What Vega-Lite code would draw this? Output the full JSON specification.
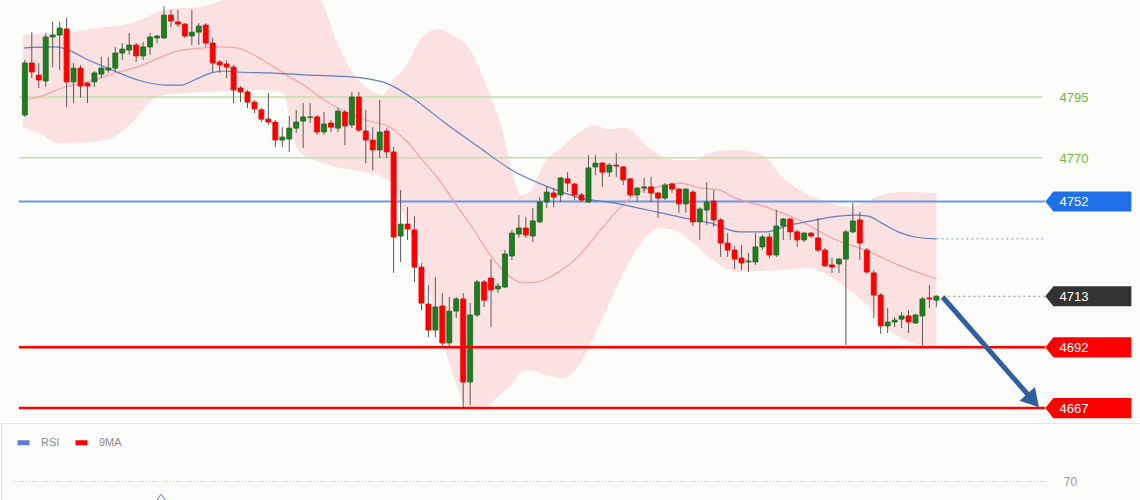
{
"$schema": "https://vega.github.io/schema/vega-lite/v6.json",
"background": "#fcfcfb",
"padding": 0,
"spacing": 0,
"config": {"view": {"stroke": null}, "font": "Liberation Sans"},
"resolve": {"scale": {"color": "independent"}},
"datasets": {
"candles": [
{"n":0,"o":4787.6,"h":4810.2,"l":4786.8,"c":4809.0},{"n":1,"o":4809.0,"h":4821.7,"l":4802.8,"c":4805.3},{"n":2,"o":4804.0,"h":4809.0,"l":4798.7,"c":4802.0},{"n":3,"o":4801.6,"h":4821.3,"l":4799.1,"c":4819.7},{"n":4,"o":4819.7,"h":4825.9,"l":4807.3,"c":4820.5},{"n":5,"o":4820.5,"h":4825.9,"l":4806.1,"c":4823.4},{"n":6,"o":4823.0,"h":4827.5,"l":4790.9,"c":4801.2},{"n":7,"o":4801.2,"h":4809.0,"l":4792.5,"c":4806.9},{"n":8,"o":4806.9,"h":4808.2,"l":4794.6,"c":4799.5},{"n":9,"o":4800.7,"h":4801.2,"l":4792.5,"c":4799.5},
{"n":10,"o":4801.2,"h":4805.7,"l":4799.1,"c":4804.9},{"n":11,"o":4804.4,"h":4811.4,"l":4802.8,"c":4806.9},{"n":12,"o":4806.1,"h":4811.4,"l":4804.9,"c":4806.9},{"n":13,"o":4806.9,"h":4815.6,"l":4805.3,"c":4813.1},{"n":14,"o":4813.1,"h":4817.2,"l":4810.2,"c":4814.7},{"n":15,"o":4814.3,"h":4821.3,"l":4812.3,"c":4816.4},{"n":16,"o":4816.4,"h":4817.2,"l":4809.4,"c":4811.9},{"n":17,"o":4811.9,"h":4817.6,"l":4810.2,"c":4815.6},{"n":18,"o":4815.6,"h":4821.3,"l":4812.3,"c":4819.7},{"n":19,"o":4819.3,"h":4820.5,"l":4817.2,"c":4820.1},
{"n":20,"o":4819.3,"h":4832.4,"l":4818.9,"c":4828.7},{"n":21,"o":4828.7,"h":4830.8,"l":4823.8,"c":4826.3},{"n":22,"o":4825.9,"h":4830.8,"l":4823.8,"c":4825.0},{"n":23,"o":4825.0,"h":4825.4,"l":4819.3,"c":4820.1},{"n":24,"o":4820.1,"h":4830.8,"l":4816.4,"c":4821.7},{"n":25,"o":4821.7,"h":4825.4,"l":4816.4,"c":4824.2},{"n":26,"o":4824.6,"h":4825.4,"l":4815.6,"c":4817.2},{"n":27,"o":4817.2,"h":4819.3,"l":4805.3,"c":4809.0},{"n":28,"o":4809.4,"h":4810.2,"l":4804.9,"c":4808.2},{"n":29,"o":4808.6,"h":4810.2,"l":4802.8,"c":4807.3},
{"n":30,"o":4807.3,"h":4808.2,"l":4792.5,"c":4797.9},{"n":31,"o":4798.7,"h":4799.5,"l":4792.9,"c":4797.1},{"n":32,"o":4797.1,"h":4797.9,"l":4790.5,"c":4792.9},{"n":33,"o":4792.9,"h":4793.8,"l":4788.4,"c":4790.1},{"n":34,"o":4789.7,"h":4790.5,"l":4784.7,"c":4785.9},{"n":35,"o":4785.9,"h":4796.6,"l":4783.5,"c":4784.7},{"n":36,"o":4784.7,"h":4785.5,"l":4774.4,"c":4777.3},{"n":37,"o":4777.3,"h":4782.6,"l":4774.4,"c":4778.5},{"n":38,"o":4777.7,"h":4787.2,"l":4772.4,"c":4782.2},{"n":39,"o":4782.2,"h":4789.7,"l":4780.2,"c":4784.7},
{"n":40,"o":4785.1,"h":4792.5,"l":4774.0,"c":4786.8},{"n":41,"o":4786.6,"h":4792.5,"l":4784.3,"c":4786.8},{"n":42,"o":4786.8,"h":4787.6,"l":4779.4,"c":4780.6},{"n":43,"o":4780.6,"h":4788.8,"l":4779.4,"c":4783.9},{"n":44,"o":4784.3,"h":4785.5,"l":4780.6,"c":4782.6},{"n":45,"o":4782.2,"h":4790.5,"l":4780.6,"c":4789.2},{"n":46,"o":4788.8,"h":4789.7,"l":4775.2,"c":4783.1},{"n":47,"o":4783.5,"h":4797.1,"l":4782.2,"c":4795.0},{"n":48,"o":4795.0,"h":4797.1,"l":4780.6,"c":4781.4},{"n":49,"o":4781.0,"h":4789.7,"l":4767.8,"c":4777.3},
{"n":50,"o":4777.3,"h":4782.6,"l":4764.9,"c":4773.2},{"n":51,"o":4773.2,"h":4793.8,"l":4769.9,"c":4780.6},{"n":52,"o":4781.0,"h":4782.2,"l":4769.9,"c":4772.4},{"n":53,"o":4772.4,"h":4774.4,"l":4722.6,"c":4737.4},{"n":54,"o":4737.8,"h":4756.7,"l":4727.1,"c":4742.7},{"n":55,"o":4742.7,"h":4749.7,"l":4736.2,"c":4740.7},{"n":56,"o":4740.3,"h":4746.0,"l":4718.9,"c":4725.0},{"n":57,"o":4725.0,"h":4726.7,"l":4707.3,"c":4710.2},{"n":58,"o":4709.8,"h":4717.6,"l":4696.2,"c":4699.1},{"n":59,"o":4699.1,"h":4720.9,"l":4696.2,"c":4708.6},
{"n":60,"o":4709.0,"h":4714.3,"l":4692.1,"c":4693.8},{"n":61,"o":4693.8,"h":4712.7,"l":4692.1,"c":4706.9},{"n":62,"o":4706.9,"h":4712.7,"l":4704.0,"c":4711.9},{"n":63,"o":4711.9,"h":4714.3,"l":4667.0,"c":4677.7},{"n":64,"o":4677.7,"h":4710.2,"l":4668.3,"c":4705.3},{"n":65,"o":4705.3,"h":4719.7,"l":4704.4,"c":4718.9},{"n":66,"o":4718.9,"h":4719.7,"l":4708.6,"c":4711.4},{"n":67,"o":4720.5,"h":4728.3,"l":4700.3,"c":4715.6},{"n":68,"o":4716.0,"h":4718.5,"l":4714.3,"c":4717.2},{"n":69,"o":4716.8,"h":4732.0,"l":4716.4,"c":4730.4},
{"n":70,"o":4729.6,"h":4740.3,"l":4727.9,"c":4739.0},{"n":71,"o":4738.6,"h":4746.4,"l":4737.0,"c":4741.1},{"n":72,"o":4741.1,"h":4745.6,"l":4737.0,"c":4738.2},{"n":73,"o":4737.8,"h":4749.3,"l":4735.3,"c":4744.0},{"n":74,"o":4743.6,"h":4753.8,"l":4743.1,"c":4751.8},{"n":75,"o":4751.8,"h":4758.0,"l":4749.3,"c":4755.9},{"n":76,"o":4755.5,"h":4757.5,"l":4749.7,"c":4753.8},{"n":77,"o":4754.7,"h":4762.1,"l":4751.8,"c":4761.7},{"n":78,"o":4761.3,"h":4764.1,"l":4755.9,"c":4759.6},{"n":79,"o":4759.2,"h":4759.6,"l":4752.6,"c":4754.7},
{"n":80,"o":4754.7,"h":4755.5,"l":4751.8,"c":4752.6},{"n":81,"o":4751.8,"h":4771.1,"l":4751.4,"c":4765.8},{"n":82,"o":4766.2,"h":4771.1,"l":4762.9,"c":4767.8},{"n":83,"o":4767.8,"h":4768.2,"l":4758.0,"c":4764.1},{"n":84,"o":4764.1,"h":4767.8,"l":4762.1,"c":4767.0},{"n":85,"o":4767.0,"h":4771.9,"l":4762.1,"c":4766.6},{"n":86,"o":4766.2,"h":4766.6,"l":4758.8,"c":4760.9},{"n":87,"o":4761.3,"h":4761.7,"l":4753.8,"c":4754.7},{"n":88,"o":4754.7,"h":4758.0,"l":4751.8,"c":4757.5},{"n":89,"o":4757.5,"h":4761.7,"l":4755.5,"c":4758.0},
{"n":90,"o":4758.0,"h":4762.1,"l":4751.8,"c":4755.5},{"n":91,"o":4755.5,"h":4755.9,"l":4745.2,"c":4753.4},{"n":92,"o":4753.4,"h":4759.6,"l":4752.6,"c":4758.8},{"n":93,"o":4759.2,"h":4760.0,"l":4755.5,"c":4757.1},{"n":94,"o":4757.1,"h":4757.5,"l":4747.3,"c":4751.0},{"n":95,"o":4751.0,"h":4757.5,"l":4747.3,"c":4757.1},{"n":96,"o":4755.9,"h":4756.7,"l":4741.9,"c":4743.6},{"n":97,"o":4743.6,"h":4749.7,"l":4736.2,"c":4748.9},{"n":98,"o":4748.5,"h":4760.0,"l":4742.3,"c":4751.8},{"n":99,"o":4752.2,"h":4756.7,"l":4741.5,"c":4744.4},
{"n":100,"o":4744.4,"h":4745.2,"l":4729.2,"c":4734.9},{"n":101,"o":4734.9,"h":4739.0,"l":4729.2,"c":4732.0},{"n":102,"o":4732.0,"h":4733.7,"l":4724.2,"c":4728.3},{"n":103,"o":4728.7,"h":4734.1,"l":4723.8,"c":4726.7},{"n":104,"o":4727.1,"h":4730.8,"l":4723.0,"c":4727.5},{"n":105,"o":4727.1,"h":4739.0,"l":4725.9,"c":4733.3},{"n":106,"o":4733.3,"h":4738.2,"l":4732.0,"c":4737.4},{"n":107,"o":4737.4,"h":4739.0,"l":4728.7,"c":4730.0},{"n":108,"o":4730.0,"h":4748.5,"l":4729.2,"c":4741.9},{"n":109,"o":4741.9,"h":4745.2,"l":4736.2,"c":4744.8},
{"n":110,"o":4744.8,"h":4745.2,"l":4736.2,"c":4739.5},{"n":111,"o":4739.5,"h":4740.3,"l":4733.3,"c":4736.2},{"n":112,"o":4736.2,"h":4739.5,"l":4735.3,"c":4739.0},{"n":113,"o":4739.0,"h":4739.5,"l":4737.0,"c":4737.8},{"n":114,"o":4737.0,"h":4745.2,"l":4731.2,"c":4732.0},{"n":115,"o":4732.0,"h":4732.9,"l":4725.0,"c":4725.5},{"n":116,"o":4725.9,"h":4728.7,"l":4722.6,"c":4725.0},{"n":117,"o":4726.3,"h":4728.7,"l":4722.6,"c":4728.3},{"n":118,"o":4728.3,"h":4740.3,"l":4692.9,"c":4739.5},{"n":119,"o":4739.5,"h":4751.4,"l":4739.0,"c":4744.0},
{"n":120,"o":4744.4,"h":4747.7,"l":4727.9,"c":4734.9},{"n":121,"o":4732.0,"h":4732.9,"l":4722.2,"c":4723.0},{"n":122,"o":4722.6,"h":4723.8,"l":4704.0,"c":4713.5},{"n":123,"o":4713.5,"h":4714.3,"l":4697.5,"c":4700.8},{"n":124,"o":4700.8,"h":4708.2,"l":4697.9,"c":4702.4},{"n":125,"o":4702.4,"h":4704.4,"l":4700.3,"c":4703.2},{"n":126,"o":4703.6,"h":4706.5,"l":4699.9,"c":4704.9},{"n":127,"o":4704.9,"h":4707.3,"l":4697.9,"c":4702.4},{"n":128,"o":4702.0,"h":4705.7,"l":4701.6,"c":4705.3},{"n":129,"o":4704.9,"h":4712.7,"l":4692.1,"c":4711.9},
{"n":130,"o":4712.3,"h":4717.6,"l":4708.2,"c":4711.9},{"n":131,"o":4711.4,"h":4713.5,"l":4708.6,"c":4713.0}
],
"band": [
{"n":-0.28,"up":4820.5,"lo":4782.7},{"n":1.99,"up":4820.9,"lo":4780.2},{"n":4.84,"up":4821.3,"lo":4776.1},{"n":6.84,"up":4821.8,"lo":4776.1},{"n":11.54,"up":4823.8,"lo":4777.3},{"n":15.38,"up":4825.5,"lo":4784.3},{"n":18.23,"up":4828.8,"lo":4793.8},{"n":20.09,"up":4830.8,"lo":4795.8},{"n":25.78,"up":4832.5,"lo":4797.1},{"n":30.48,"up":4837.0,"lo":4797.5},
{"n":34.33,"up":4839.9,"lo":4797.9},{"n":37.18,"up":4839.9,"lo":4796.7},{"n":38.6,"up":4839.5,"lo":4777.3},{"n":40.03,"up":4839.0,"lo":4771.1},{"n":42.45,"up":4834.9,"lo":4768.3},{"n":44.73,"up":4818.5,"lo":4766.2},{"n":47.15,"up":4804.9,"lo":4765.0},{"n":49.57,"up":4797.9,"lo":4763.7},{"n":51.42,"up":4795.8,"lo":4762.1},{"n":52.85,"up":4802.0,"lo":4758.8},
{"n":54.7,"up":4807.4,"lo":4744.4},{"n":57.12,"up":4819.7,"lo":4725.9},{"n":59.54,"up":4823.0,"lo":4699.1},{"n":61.82,"up":4819.7,"lo":4678.5},{"n":63.25,"up":4817.2,"lo":4668.3},{"n":65.24,"up":4807.4,"lo":4666.2},{"n":66.67,"up":4796.7,"lo":4668.3},{"n":68.52,"up":4782.7,"lo":4673.2},{"n":69.94,"up":4765.0,"lo":4676.5},{"n":71.37,"up":4754.7,"lo":4681.8},
{"n":72.36,"up":4755.5,"lo":4682.7},{"n":74.93,"up":4769.1,"lo":4680.6},{"n":77.07,"up":4774.0,"lo":4679.4},{"n":79.49,"up":4780.2,"lo":4683.9},{"n":81.77,"up":4783.5,"lo":4696.2},{"n":83.76,"up":4781.8,"lo":4708.6},{"n":86.61,"up":4782.3,"lo":4725.9},{"n":88.89,"up":4776.1,"lo":4736.2},{"n":91.31,"up":4771.1,"lo":4741.1},{"n":93.73,"up":4769.1,"lo":4739.9},
{"n":96.01,"up":4769.1,"lo":4734.9},{"n":98.86,"up":4772.4,"lo":4727.9},{"n":102.71,"up":4773.2,"lo":4723.0},{"n":105.98,"up":4771.1,"lo":4723.4},{"n":108.83,"up":4762.1,"lo":4723.8},{"n":112.68,"up":4754.7,"lo":4724.6},{"n":115.1,"up":4751.8,"lo":4722.2},{"n":118.8,"up":4749.7,"lo":4714.8},{"n":120.8,"up":4751.8,"lo":4710.2},{"n":123.65,"up":4755.1,"lo":4700.4},
{"n":126.5,"up":4755.9,"lo":4695.0},{"n":131,"up":4755.5,"lo":4692.1}
],
"ma20": [
{"n":0.14,"p":4793.8},{"n":1.99,"p":4795.0},{"n":5.84,"p":4799.1},{"n":9.12,"p":4801.2},{"n":12.96,"p":4804.9},{"n":16.24,"p":4807.4},{"n":19.66,"p":4811.5},{"n":21.94,"p":4813.9},{"n":25.78,"p":4815.2},{"n":28.21,"p":4815.6},{"n":30.48,"p":4815.2},{"n":32.91,"p":4812.3},{"n":35.33,"p":4808.2},{"n":37.61,"p":4804.1},{"n":40.03,"p":4799.9},{"n":42.45,"p":4795.0},{"n":44.73,"p":4790.9},{"n":47.15,"p":4787.6},{"n":50.0,"p":4784.7},{"n":51.85,"p":4783.5},{"n":54.7,"p":4777.3},{"n":57.12,"p":4769.1},{"n":59.54,"p":4760.9},{"n":61.82,"p":4751.4},{"n":64.25,"p":4741.5},{"n":66.67,"p":4730.8},{"n":68.95,"p":4723.0},{"n":71.79,"p":4718.5},{"n":73.79,"p":4718.9},{"n":76.07,"p":4721.8},{"n":79.49,"p":4729.2},{"n":82.76,"p":4740.3},{"n":85.61,"p":4749.7},{"n":88.03,"p":4755.5},{"n":90.88,"p":4758.0},{"n":94.16,"p":4759.6},{"n":97.01,"p":4757.6},{"n":99.86,"p":4756.7},{"n":101.71,"p":4753.9},{"n":106.55,"p":4749.7},{"n":111.25,"p":4744.4},{"n":115.95,"p":4737.0},{"n":120.8,"p":4732.0},{"n":125.5,"p":4725.9},{"n":131,"p":4720.1}
],
"ma100": [
{"n":-0.14,"p":4815.2},{"n":4.42,"p":4815.6},{"n":5.84,"p":4814.8},{"n":9.12,"p":4810.2},{"n":12.54,"p":4806.1},{"n":16.24,"p":4802.0},{"n":20.09,"p":4799.9},{"n":22.51,"p":4799.9},{"n":24.36,"p":4802.0},{"n":26.78,"p":4804.9},{"n":28.63,"p":4805.7},{"n":30.48,"p":4805.3},{"n":35.33,"p":4804.9},{"n":40.03,"p":4804.1},{"n":44.73,"p":4803.6},{"n":48.58,"p":4802.8},{"n":51.85,"p":4800.8},{"n":55.7,"p":4794.6},{"n":60.4,"p":4784.3},{"n":65.24,"p":4774.4},{"n":69.94,"p":4765.0},{"n":75.21,"p":4758.0},{"n":79.91,"p":4753.4},{"n":84.62,"p":4751.4},{"n":89.46,"p":4748.5},{"n":94.16,"p":4745.6},{"n":98.43,"p":4743.2},{"n":102.71,"p":4739.5},{"n":106.55,"p":4739.5},{"n":109.83,"p":4742.3},{"n":112.25,"p":4743.6},{"n":116.95,"p":4746.0},{"n":119.37,"p":4746.4},{"n":121.23,"p":4746.0},{"n":123.08,"p":4743.2},{"n":125.5,"p":4739.5},{"n":127.92,"p":4737.4},{"n":131,"p":4736.6}
],
"levels": [
{"level":4795,"label":"4795"},{"level":4770,"label":"4770"},{"level":4752,"label":"4752"},{"level":4713,"label":"4713"},{"level":4692,"label":"4692"},{"level":4667,"label":"4667"}
],
"arrow": [{"n1":131.9,"p1":4712.7,"n2":144.9,"p2":4670.1}],
"rsilevels": [{"level":70,"label":"70"}],
"rsi": [{"n":18.8,"v":57,"s":"RSI"},{"n":20.1,"v":63.5,"s":"RSI"},{"n":21.4,"v":57,"s":"RSI"}]
},
"vconcat": [
{
"width": 1140, "height": 422,
"layer": [
{"data":{"name":"band"},"mark":{"type":"area","interpolate":"monotone","fill":"#fbe1e1","clip":true},
 "encoding":{"x":{"field":"n","type":"quantitative","scale":{"domain":[-2.707,159.69],"nice":false,"zero":false},"axis":null},"y":{"field":"up","type":"quantitative","scale":{"domain":[4661.26,4834.92],"nice":false,"zero":false},"axis":null},"y2":{"field":"lo"}}},
{"data":{"name":"levels"},"transform":[{"filter":"datum.level >= 4770"}],"mark":{"type":"rule","color":"#bde2a6","strokeWidth":1.5},
 "encoding":{"x":{"datum":-0.85,"type":"quantitative","scale":{"domain":[-2.707,159.69],"nice":false,"zero":false},"axis":null},"x2":{"datum":146.2},"y":{"field":"level","type":"quantitative","scale":{"domain":[4661.26,4834.92],"nice":false,"zero":false},"axis":null}}},
{"data":{"name":"levels"},"transform":[{"filter":"datum.level == 4752"}],"mark":{"type":"rule","color":"#6a98ee","strokeWidth":2},
 "encoding":{"x":{"datum":-0.85,"type":"quantitative","scale":{"domain":[-2.707,159.69],"nice":false,"zero":false},"axis":null},"x2":{"datum":146.6},"y":{"field":"level","type":"quantitative","scale":{"domain":[4661.26,4834.92],"nice":false,"zero":false},"axis":null}}},
{"data":{"name":"ma20"},"mark":{"type":"line","interpolate":"monotone","color":"#f4a2a2","strokeWidth":1.2,"clip":true},
 "encoding":{"x":{"field":"n","type":"quantitative","scale":{"domain":[-2.707,159.69],"nice":false,"zero":false},"axis":null},"y":{"field":"p","type":"quantitative","scale":{"domain":[4661.26,4834.92],"nice":false,"zero":false},"axis":null}}},
{"data":{"name":"ma100"},"mark":{"type":"line","interpolate":"monotone","color":"#5d80c2","strokeWidth":1.2,"clip":true},
 "encoding":{"x":{"field":"n","type":"quantitative","scale":{"domain":[-2.707,159.69],"nice":false,"zero":false},"axis":null},"y":{"field":"p","type":"quantitative","scale":{"domain":[4661.26,4834.92],"nice":false,"zero":false},"axis":null}}},
{"data":{"name":"ma100"},"transform":[{"filter":"datum.n == 131"}],"mark":{"type":"rule","color":"#94acd8","strokeWidth":1.2,"strokeDash":[2,3]},
 "encoding":{"x":{"field":"n","type":"quantitative","scale":{"domain":[-2.707,159.69],"nice":false,"zero":false},"axis":null},"x2":{"datum":146.6},"y":{"field":"p","type":"quantitative","scale":{"domain":[4661.26,4834.92],"nice":false,"zero":false},"axis":null}}},
{"data":{"name":"candles"},"mark":{"type":"rule","color":"#5a5a5a","strokeWidth":1},
 "encoding":{"x":{"field":"n","type":"quantitative","scale":{"domain":[-2.707,159.69],"nice":false,"zero":false},"axis":null},"y":{"field":"l","type":"quantitative","scale":{"domain":[4661.26,4834.92],"nice":false,"zero":false},"axis":null},"y2":{"field":"h"}}},
{"data":{"name":"candles"},"mark":{"type":"bar","size":5,"strokeWidth":0.8},
 "encoding":{"x":{"field":"n","type":"quantitative","scale":{"domain":[-2.707,159.69],"nice":false,"zero":false},"axis":null},"y":{"field":"o","type":"quantitative","scale":{"domain":[4661.26,4834.92],"nice":false,"zero":false},"axis":null},"y2":{"field":"c"},
  "color":{"condition":{"test":"datum.c >= datum.o","value":"#1f7d1f"},"value":"#ff0000"},
  "stroke":{"condition":{"test":"datum.c >= datum.o","value":"#1a6a1a"},"value":"#ee0000"}}},
{"data":{"name":"levels"},"transform":[{"filter":"datum.level <= 4692"}],"mark":{"type":"rule","color":"#ff0000","strokeWidth":2.5},
 "encoding":{"x":{"datum":-0.85,"type":"quantitative","scale":{"domain":[-2.707,159.69],"nice":false,"zero":false},"axis":null},"x2":{"datum":146.6},"y":{"field":"level","type":"quantitative","scale":{"domain":[4661.26,4834.92],"nice":false,"zero":false},"axis":null}}},
{"data":{"name":"levels"},"transform":[{"filter":"datum.level == 4713"}],"mark":{"type":"rule","color":"#888888","strokeWidth":1,"strokeDash":[2,3]},
 "encoding":{"x":{"datum":132,"type":"quantitative","scale":{"domain":[-2.707,159.69],"nice":false,"zero":false},"axis":null},"x2":{"datum":146.6},"y":{"field":"level","type":"quantitative","scale":{"domain":[4661.26,4834.92],"nice":false,"zero":false},"axis":null}}},
{"data":{"name":"levels"},"transform":[{"filter":"datum.level < 4770"}],"mark":{"type":"point","shape":"M -1 0 L -0.814 -0.235 L 1 -0.235 L 1 0.235 L -0.814 0.235 Z","size":7396,"filled":true,"opacity":1,"strokeWidth":0},
 "encoding":{"x":{"datum":152.85,"type":"quantitative","scale":{"domain":[-2.707,159.69],"nice":false,"zero":false},"axis":null},"y":{"field":"level","type":"quantitative","scale":{"domain":[4661.26,4834.92],"nice":false,"zero":false},"axis":null},
  "color":{"condition":[{"test":"datum.level == 4752","value":"#1f6fe8"},{"test":"datum.level == 4713","value":"#333333"}],"value":"#ff0000"}}},
{"data":{"name":"levels"},"mark":{"type":"text","align":"left","baseline":"middle","fontSize":13,"dy":1},
 "encoding":{"x":{"datum":148.7,"type":"quantitative","scale":{"domain":[-2.707,159.69],"nice":false,"zero":false},"axis":null},"y":{"field":"level","type":"quantitative","scale":{"domain":[4661.26,4834.92],"nice":false,"zero":false},"axis":null},"text":{"field":"label"},
  "color":{"condition":{"test":"datum.level >= 4770","value":"#74b83c"},"value":"#ffffff"}}},
{"data":{"name":"arrow"},"mark":{"type":"rule","color":"#2f5f9f","strokeWidth":5},
 "encoding":{"x":{"field":"n1","type":"quantitative","scale":{"domain":[-2.707,159.69],"nice":false,"zero":false},"axis":null},"y":{"field":"p1","type":"quantitative","scale":{"domain":[4661.26,4834.92],"nice":false,"zero":false},"axis":null},"x2":{"field":"n2"},"y2":{"field":"p2"}}},
{"data":{"name":"arrow"},"mark":{"type":"point","shape":"triangle-right","size":420,"angle":48.6,"filled":true,"opacity":1,"color":"#2f5f9f"},
 "encoding":{"x":{"field":"n2","type":"quantitative","scale":{"domain":[-2.707,159.69],"nice":false,"zero":false},"axis":null},"y":{"field":"p2","type":"quantitative","scale":{"domain":[4661.26,4834.92],"nice":false,"zero":false},"axis":null}}}
]
},
{
"width": 1140, "height": 78,
"view": {"stroke": "#e2e7ee"},
"layer": [
{"data":{"name":"rsilevels"},"mark":{"type":"rule","color":"#c4c4c4","strokeWidth":1,"strokeDash":[1,2]},
 "encoding":{"x":{"datum":-0.85,"type":"quantitative","scale":{"domain":[-2.707,159.69],"nice":false,"zero":false},"axis":null},"x2":{"datum":146.6},"y":{"field":"level","type":"quantitative","scale":{"domain":[60,100],"nice":false,"zero":false},"axis":null}}},
{"data":{"name":"rsilevels"},"mark":{"type":"text","align":"left","baseline":"middle","fontSize":12,"color":"#999999"},
 "encoding":{"x":{"datum":148.7,"type":"quantitative","scale":{"domain":[-2.707,159.69],"nice":false,"zero":false},"axis":null},"y":{"field":"level","type":"quantitative","scale":{"domain":[60,100],"nice":false,"zero":false},"axis":null},"text":{"field":"label"}}},
{"data":{"name":"rsi"},"mark":{"type":"line","strokeWidth":1,"clip":true},
 "encoding":{"x":{"field":"n","type":"quantitative","scale":{"domain":[-2.707,159.69],"nice":false,"zero":false},"axis":null},"y":{"field":"v","type":"quantitative","scale":{"domain":[60,100],"nice":false,"zero":false},"axis":null},
  "color":{"field":"s","type":"nominal","scale":{"domain":["RSI","9MA"],"range":["#5b7fd6","#ff0000"]},
   "legend":{"orient":"none","legendX":14,"legendY":11,"direction":"horizontal","title":null,"symbolType":"stroke","symbolSize":144,"symbolStrokeWidth":5,"labelOffset":9,"columnPadding":5,"labelFontSize":11,"labelColor":"#8a8a8a","padding":0}}}}
]
}
]
}
